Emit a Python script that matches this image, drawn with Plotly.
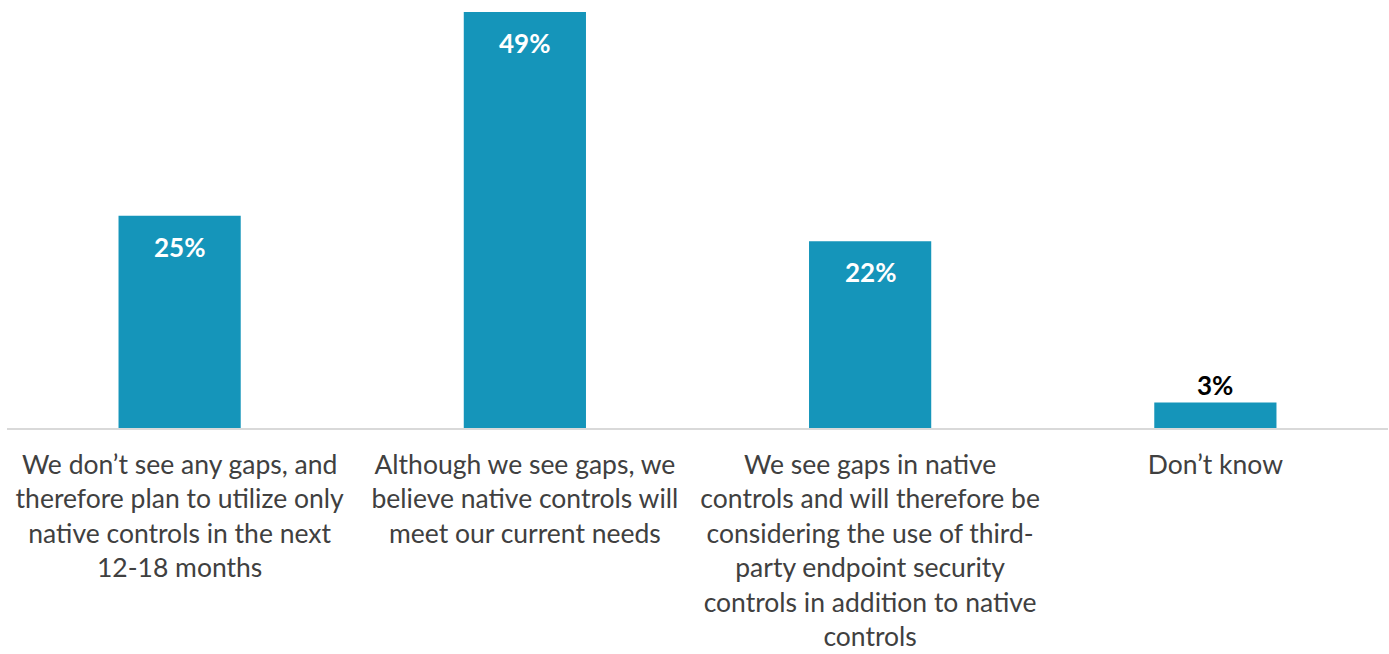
import plotly.graph_objects as go

categories = [
    "We don’t see any gaps, and<br>therefore plan to utilize only<br>native controls in the next<br>12-18 months",
    "Although we see gaps, we<br>believe native controls will<br>meet our current needs",
    "We see gaps in native<br>controls and will therefore be<br>considering the use of third-<br>party endpoint security<br>controls in addition to native<br>controls",
    "Don’t know",
]
values = [25, 49, 22, 3]
value_labels = ["25%", "49%", "22%", "3%"]

BAR_COLOR = "#1595BA"
TEXT_COLOR = "#404040"
FONT = "Lato"

xs = list(range(len(values)))

fig = go.Figure(
    go.Bar(
        x=xs,
        y=values,
        marker=dict(color=BAR_COLOR, line=dict(width=0)),
        width=0.354,
        hoverinfo="skip",
    )
)

# Value labels: inside near the top for tall bars, just above for short ones
for i, (v, lab) in enumerate(zip(values, value_labels)):
    inside = v >= 10
    fig.add_annotation(
        x=i,
        y=v,
        text=f"<b>{lab}</b>",
        showarrow=False,
        xanchor="center",
        yanchor="top" if inside else "bottom",
        yshift=-13 if inside else 0,
        font=dict(family=FONT, size=26, color="white" if inside else "black"),
    )

fig.update_layout(
    width=1389,
    height=654,
    margin=dict(l=7, r=1, t=12, b=226),
    paper_bgcolor="white",
    plot_bgcolor="white",
    showlegend=False,
    bargap=0.646,
    font=dict(family=FONT, color=TEXT_COLOR),
)
fig.update_xaxes(
    tickmode="array",
    tickvals=xs,
    ticktext=categories,
    range=[-0.5, len(values) - 0.5],
    showline=True,
    linecolor="#D9D9D9",
    linewidth=2,
    ticks="",
    ticklabelstandoff=12,
    showgrid=False,
    tickfont=dict(family=FONT, size=26.5, color=TEXT_COLOR),
)
fig.update_yaxes(
    range=[0, 49],
    visible=False,
    showgrid=False,
    zeroline=False,
)

fig.write_html("out.html")
